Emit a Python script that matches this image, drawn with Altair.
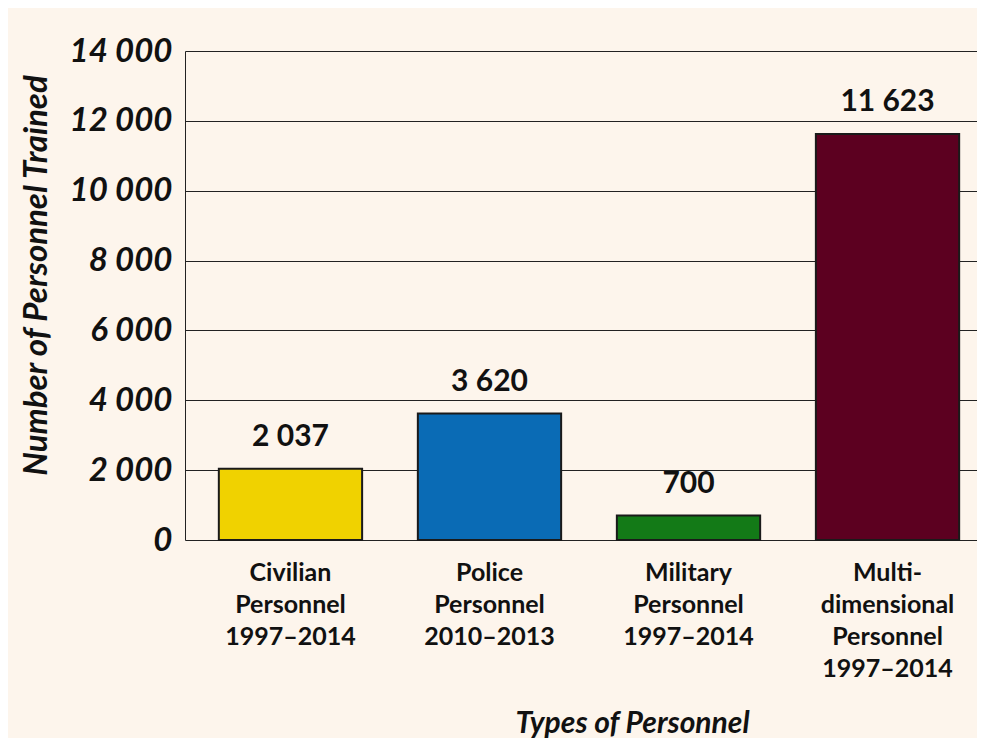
import altair as alt
import pandas as pd

categories = [
    "Civilian\nPersonnel\n1997–2014",
    "Police\nPersonnel\n2010–2013",
    "Military\nPersonnel\n1997–2014",
    "Multi-\ndimensional\nPersonnel\n1997–2014",
]
values = [2037, 3620, 700, 11623]
fills = ["#f0d200", "#0a6bb5", "#137a17", "#5c0020"]

df = pd.DataFrame({"cat": categories, "val": values, "fill": fills})

FONT = "Lato"

base = alt.Chart(df).encode(
    x=alt.X(
        "cat:N",
        sort=categories,
        scale=alt.Scale(paddingInner=0.28, paddingOuter=0.17, range=[0, 808]),
        axis=alt.Axis(
            title="Types of Personnel",
            labelExpr="split(datum.label, '\\n')",
            labelAngle=0,
            labelFont=FONT,
            labelFontSize=25,
            labelFontWeight="bold",
            labelColor="#111",
            labelLineHeight=32,
            labelPadding=20,
            ticks=False,
            domain=False,
            titleFont=FONT,
            titleFontSize=30,
            titleFontStyle="italic",
            titleFontWeight="bold",
            titleColor="#111",
            titleX=447,
            titleY=168,
        ),
    )
)

bars = base.mark_bar(stroke="#1a1a1a", strokeWidth=2).encode(
    y=alt.Y(
        "val:Q",
        scale=alt.Scale(domain=[0, 14000]),
        axis=alt.Axis(
            title="Number of Personnel Trained",
            values=[0, 2000, 4000, 6000, 8000, 10000, 12000, 14000],
            labelExpr="replace(format(datum.value, ','), ',', ' ')",
            labelFont=FONT,
            labelFontSize=33,
            labelFontStyle="italic",
            labelFontWeight="bold",
            labelColor="#111",
            labelPadding=13,
            ticks=False,
            domain=True,
            domainColor="#222",
            gridColor="#222",
            gridWidth=1.2,
            titleFont=FONT,
            titleFontSize=33,
            titleFontStyle="italic",
            titleFontWeight="bold",
            titleColor="#111",
            titlePadding=16,
            titleY=224,
        ),
    ),
    fill=alt.Fill("fill:N", scale=None),
)

labels = base.transform_calculate(
    lab="replace(format(datum.val, ','), ',', ' ')"
).mark_text(
    dy=-32, font=FONT, fontSize=30, fontWeight="bold", color="#111"
).encode(
    y="val:Q",
    text="lab:N",
)

chart = (
    alt.layer(bars, labels)
    .properties(
        width=792,
        height=489,
        background="#fdf5ec",
        padding={"left": 177, "top": 43, "right": 0, "bottom": 198},
        autosize=alt.AutoSizeParams(type="none"),
    )
    .configure_view(stroke=None)
)

chart.save("out.html", embed_options={"renderer": "svg", "actions": False})
